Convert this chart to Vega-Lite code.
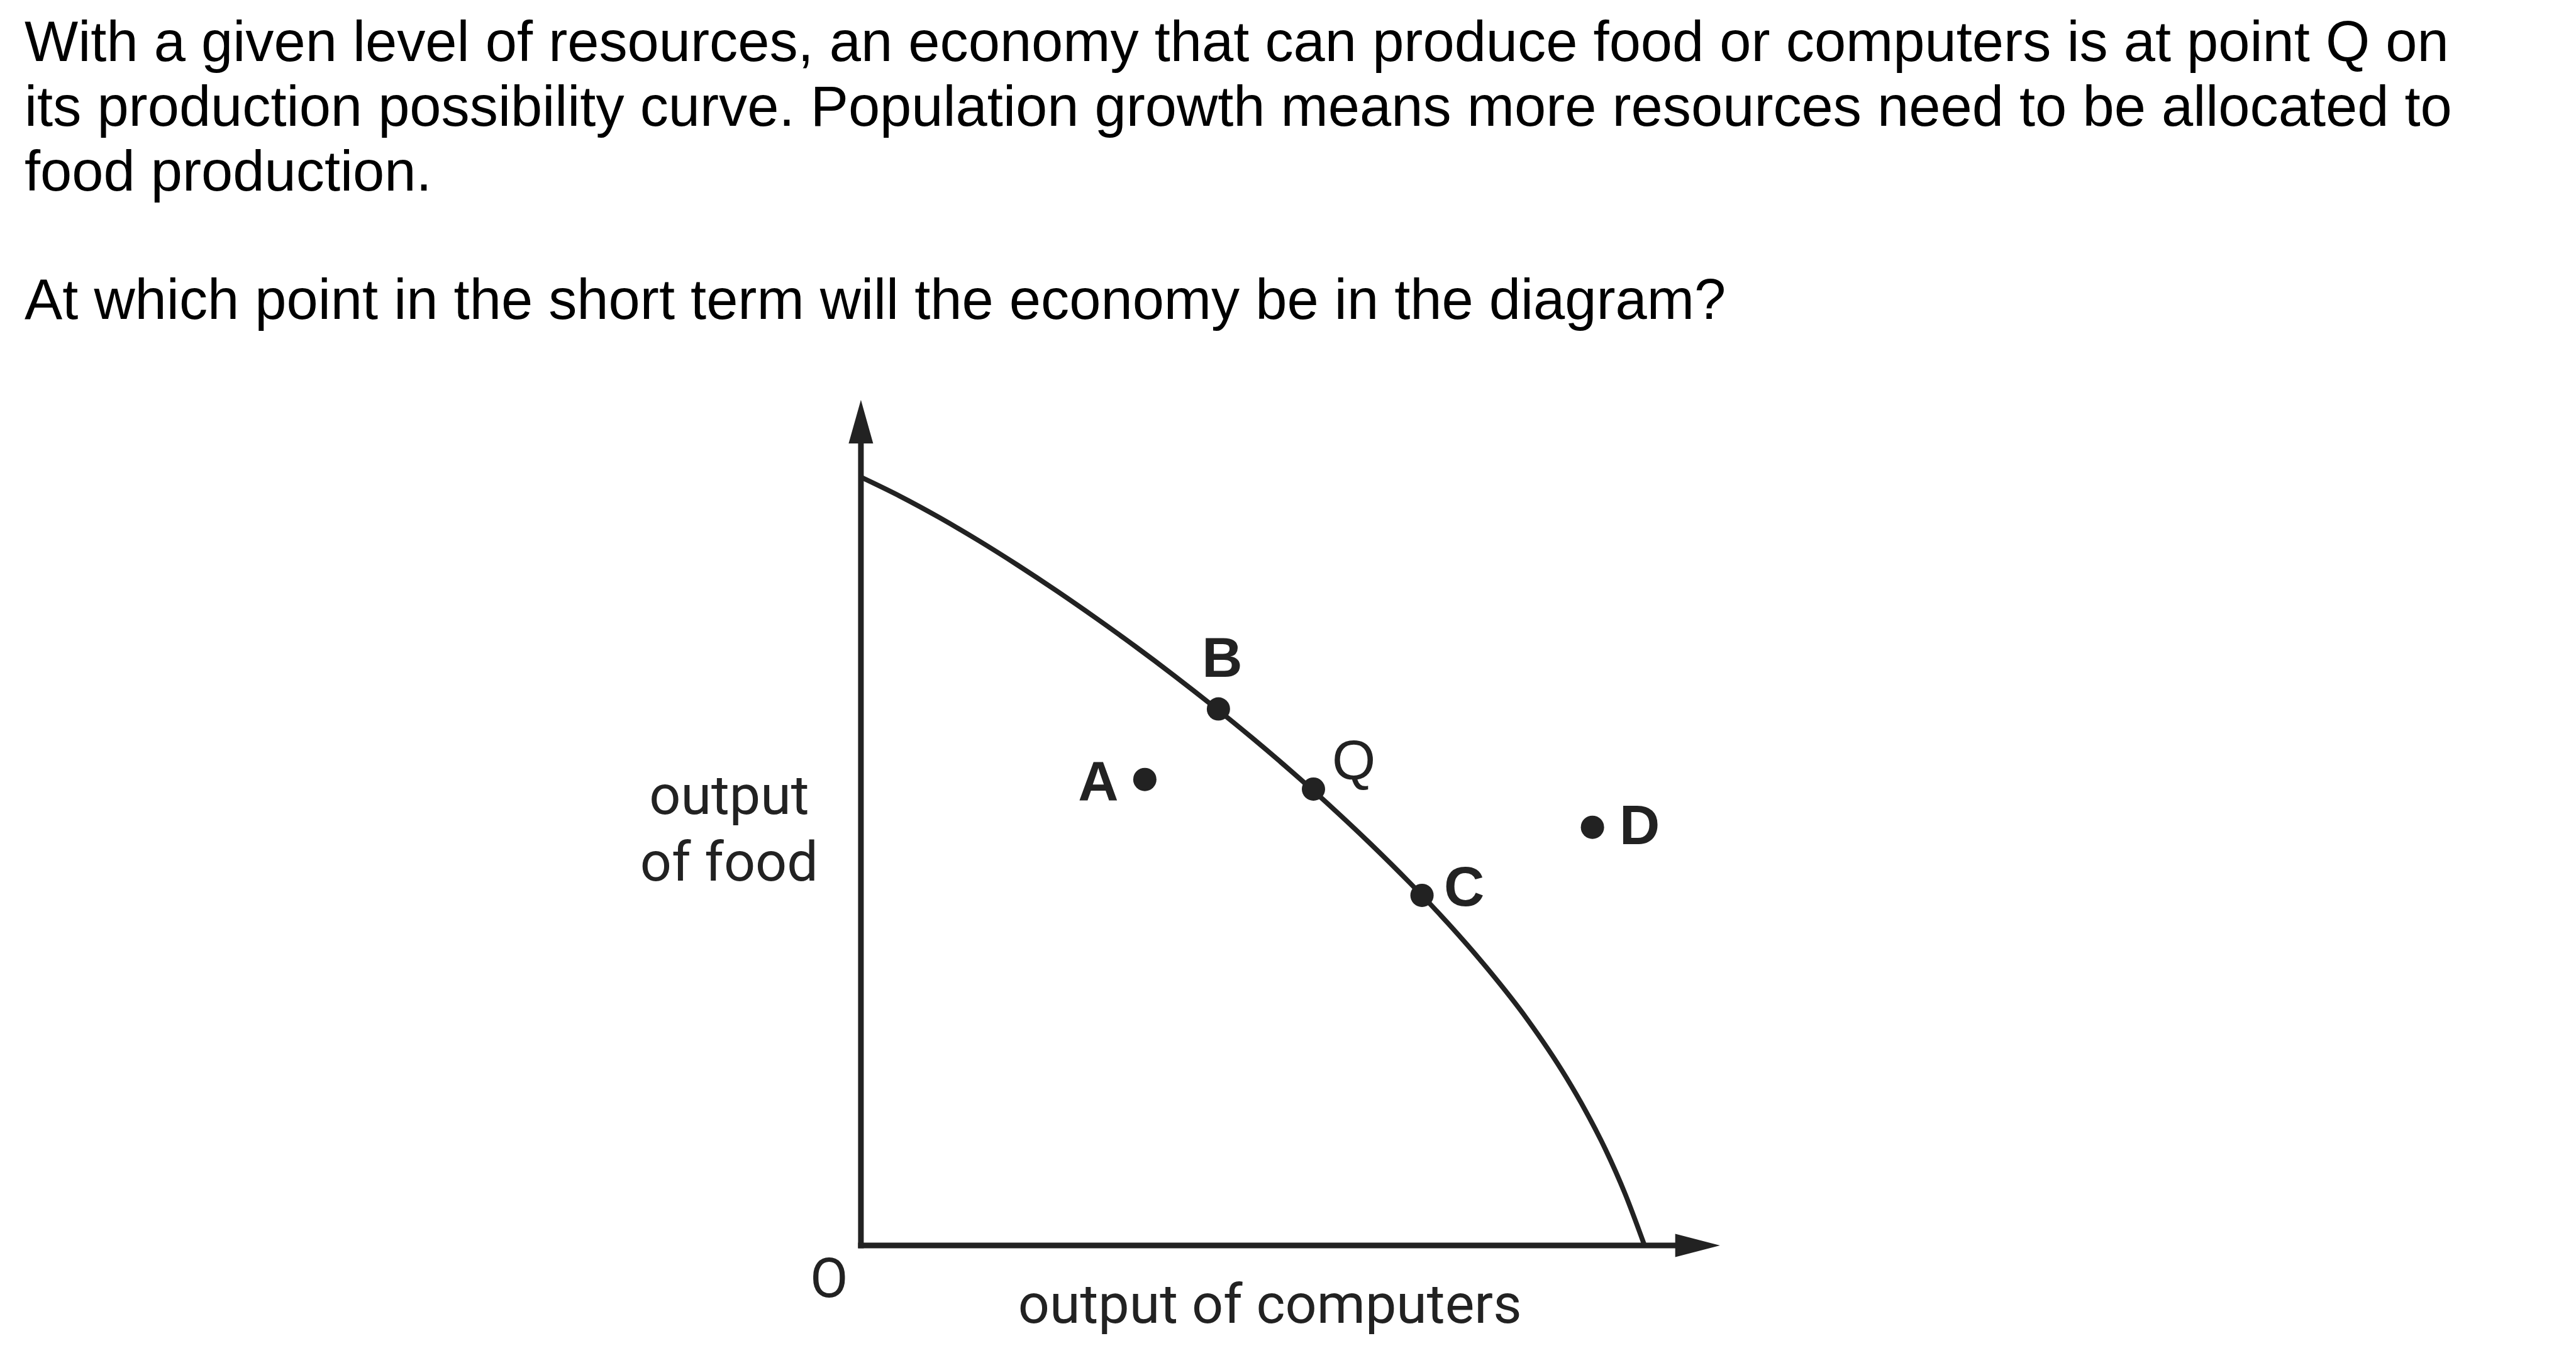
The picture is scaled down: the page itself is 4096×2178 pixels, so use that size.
{
  "$schema": "https://vega.github.io/schema/vega-lite/v6.json",
  "width": 4096,
  "height": 2178,
  "autosize": {"type": "fit", "contains": "padding"},
  "padding": 0,
  "background": "white",
  "config": {"view": {"stroke": null}, "axis": {"disable": true}},
  "datasets": {
    "curve": [
      {"computers": 0, "food": 100},
      {"computers": 5, "food": 97.51},
      {"computers": 10, "food": 94.75},
      {"computers": 15, "food": 91.75},
      {"computers": 20, "food": 88.55},
      {"computers": 25, "food": 85.18},
      {"computers": 30, "food": 81.65},
      {"computers": 35, "food": 77.98},
      {"computers": 40, "food": 74.15},
      {"computers": 45, "food": 70.16},
      {"computers": 50, "food": 66.0},
      {"computers": 55, "food": 61.65},
      {"computers": 60, "food": 57.1},
      {"computers": 65, "food": 52.31},
      {"computers": 70, "food": 47.25},
      {"computers": 75, "food": 41.84},
      {"computers": 80, "food": 35.98},
      {"computers": 85, "food": 29.48},
      {"computers": 90, "food": 21.88},
      {"computers": 92.5, "food": 17.48},
      {"computers": 95, "food": 12.53},
      {"computers": 97.5, "food": 6.77},
      {"computers": 100, "food": 0}
    ],
    "points": [
      {"label": "A", "computers": 36.23, "food": 60.65},
      {"label": "B", "computers": 45.62, "food": 69.83},
      {"label": "Q", "computers": 57.75, "food": 59.4},
      {"label": "C", "computers": 71.6, "food": 45.57},
      {"label": "D", "computers": 93.35, "food": 54.43}
    ],
    "axes": [
      {"axis": "food", "computers": 0, "food": 0, "computers2": 0, "food2": 107.2},
      {"axis": "computers", "computers": 0, "food": 0, "computers2": 106.8, "food2": 0}
    ],
    "arrows": [
      {"axis": "food", "computers": 0, "food": 107.22},
      {"axis": "computers", "computers": 106.77, "food": 0}
    ],
    "question": [
      {"text": ["With a given level of resources, an economy that can produce food or computers is at point Q on", "its production possibility curve. Population growth means more resources need to be allocated to", "food production."]}
    ],
    "prompt": [
      {"text": "At which point in the short term will the economy be in the diagram?"}
    ],
    "foodlabel": [{"text": ["output", "of food"]}],
    "originlabel": [{"text": "O"}],
    "computerslabel": [{"text": "output of computers"}]
  },
  "layer": [
    {
      "data": {"name": "question"},
      "mark": {"type": "text", "align": "left", "baseline": "alphabetic", "font": "Liberation Sans", "fontSize": 90.3, "lineHeight": 103.2, "color": "#000000"},
      "encoding": {
        "x": {"datum": -106.73, "type": "quantitative", "scale": {"domain": [-109.86, 218.86], "nice": false, "zero": false}, "axis": null},
        "y": {"datum": 154.19, "type": "quantitative", "scale": {"domain": [-16.2, 162.09], "nice": false, "zero": false}, "axis": null},
        "text": {"field": "text"}
      }
    },
    {
      "data": {"name": "prompt"},
      "mark": {"type": "text", "align": "left", "baseline": "alphabetic", "font": "Liberation Sans", "fontSize": 90.3, "color": "#000000"},
      "encoding": {
        "x": {"datum": -106.73, "type": "quantitative", "axis": null},
        "y": {"datum": 120.59, "type": "quantitative", "axis": null},
        "text": {"field": "text"}
      }
    },
    {
      "data": {"name": "axes"},
      "mark": {"type": "rule", "strokeWidth": 9, "color": "#222222", "strokeCap": "square"},
      "encoding": {
        "x": {"field": "computers", "type": "quantitative", "axis": null},
        "y": {"field": "food", "type": "quantitative", "axis": null},
        "x2": {"field": "computers2"},
        "y2": {"field": "food2"}
      }
    },
    {
      "data": {"name": "arrows"},
      "mark": {"type": "point", "filled": true, "opacity": 1, "size": 5069, "color": "#222222", "strokeWidth": 0},
      "encoding": {
        "x": {"field": "computers", "type": "quantitative", "axis": null},
        "y": {"field": "food", "type": "quantitative", "axis": null},
        "shape": {"field": "axis", "type": "nominal", "scale": {"domain": ["food", "computers"], "range": ["M0,-0.972L0.548,0.972L-0.548,0.972Z", "M1,0L-1,0.52L-1,-0.52Z"]}, "legend": null}
      }
    },
    {
      "data": {"name": "curve"},
      "mark": {"type": "line", "interpolate": "monotone", "strokeWidth": 7.8, "color": "#222222"},
      "encoding": {
        "x": {"field": "computers", "type": "quantitative", "axis": null},
        "y": {"field": "food", "type": "quantitative", "axis": null}
      }
    },
    {
      "data": {"name": "points"},
      "mark": {"type": "circle", "size": 1369, "opacity": 1, "color": "#222222"},
      "encoding": {
        "x": {"field": "computers", "type": "quantitative", "axis": null},
        "y": {"field": "food", "type": "quantitative", "axis": null}
      }
    },
    {
      "data": {"name": "points"},
      "transform": [{"filter": "datum.label === 'A'"}],
      "mark": {"type": "text", "align": "center", "baseline": "alphabetic", "font": "Liberation Sans", "fontWeight": "bold", "fontSize": 89, "dx": -74, "dy": 34, "color": "#222222"},
      "encoding": {
        "x": {"field": "computers", "type": "quantitative", "axis": null},
        "y": {"field": "food", "type": "quantitative", "axis": null},
        "text": {"field": "label"}
      }
    },
    {
      "data": {"name": "points"},
      "transform": [{"filter": "datum.label === 'B'"}],
      "mark": {"type": "text", "align": "center", "baseline": "alphabetic", "font": "Liberation Sans", "fontWeight": "bold", "fontSize": 89, "dx": 6, "dy": -51, "color": "#222222"},
      "encoding": {
        "x": {"field": "computers", "type": "quantitative", "axis": null},
        "y": {"field": "food", "type": "quantitative", "axis": null},
        "text": {"field": "label"}
      }
    },
    {
      "data": {"name": "points"},
      "transform": [{"filter": "datum.label === 'Q'"}],
      "mark": {"type": "text", "align": "center", "baseline": "alphabetic", "font": "Liberation Sans", "fontWeight": "normal", "fontSize": 89, "dx": 64, "dy": -15, "color": "#222222"},
      "encoding": {
        "x": {"field": "computers", "type": "quantitative", "axis": null},
        "y": {"field": "food", "type": "quantitative", "axis": null},
        "text": {"field": "label"}
      }
    },
    {
      "data": {"name": "points"},
      "transform": [{"filter": "datum.label === 'C'"}],
      "mark": {"type": "text", "align": "center", "baseline": "alphabetic", "font": "Liberation Sans", "fontWeight": "bold", "fontSize": 89, "dx": 67, "dy": 17, "color": "#222222"},
      "encoding": {
        "x": {"field": "computers", "type": "quantitative", "axis": null},
        "y": {"field": "food", "type": "quantitative", "axis": null},
        "text": {"field": "label"}
      }
    },
    {
      "data": {"name": "points"},
      "transform": [{"filter": "datum.label === 'D'"}],
      "mark": {"type": "text", "align": "center", "baseline": "alphabetic", "font": "Liberation Sans", "fontWeight": "bold", "fontSize": 89, "dx": 75, "dy": 27, "color": "#222222"},
      "encoding": {
        "x": {"field": "computers", "type": "quantitative", "axis": null},
        "y": {"field": "food", "type": "quantitative", "axis": null},
        "text": {"field": "label"}
      }
    },
    {
      "data": {"name": "foodlabel"},
      "mark": {"type": "text", "align": "center", "baseline": "alphabetic", "font": "Roboto", "fontSize": 88, "lineHeight": 106.3, "color": "#222222"},
      "encoding": {
        "x": {"datum": -16.82, "type": "quantitative", "axis": null},
        "y": {"datum": 56.19, "type": "quantitative", "axis": null},
        "text": {"field": "text"}
      }
    },
    {
      "data": {"name": "originlabel"},
      "mark": {"type": "text", "align": "center", "baseline": "alphabetic", "font": "Roboto", "fontSize": 88, "color": "#222222"},
      "encoding": {
        "x": {"datum": -4.07, "type": "quantitative", "axis": null},
        "y": {"datum": -6.7, "type": "quantitative", "axis": null},
        "text": {"field": "text"}
      }
    },
    {
      "data": {"name": "computerslabel"},
      "mark": {"type": "text", "align": "center", "baseline": "alphabetic", "font": "Roboto", "fontSize": 88, "color": "#222222"},
      "encoding": {
        "x": {"datum": 52.19, "type": "quantitative", "axis": null},
        "y": {"datum": -10.06, "type": "quantitative", "axis": null},
        "text": {"field": "text"}
      }
    }
  ]
}
